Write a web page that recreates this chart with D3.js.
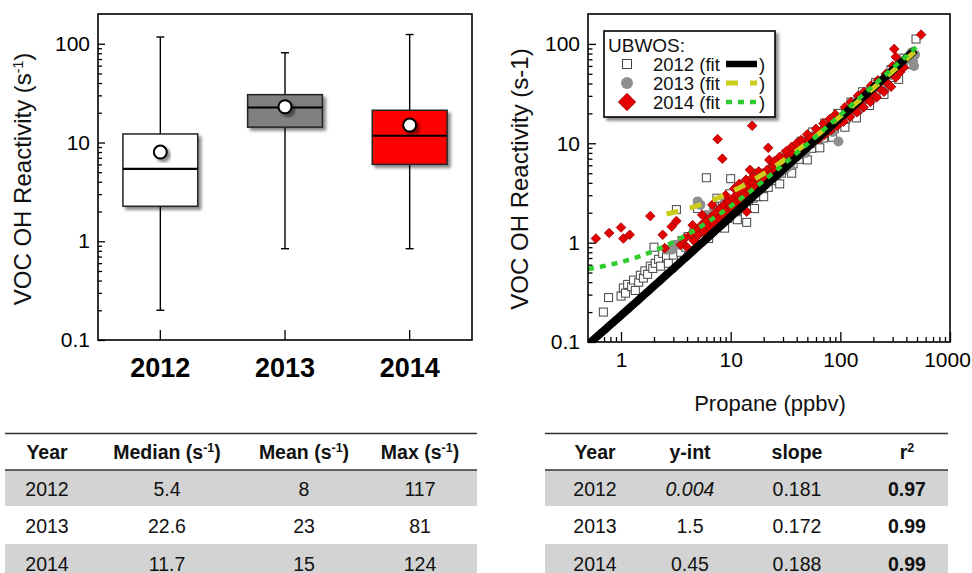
<!DOCTYPE html>
<html>
<head>
<meta charset="utf-8">
<script src="https://cdn.jsdelivr.net/npm/d3@7.9.0/dist/d3.min.js"></script>
<style>
  body { margin: 0; background: #fff; }
  svg { display: block; font-family: "Liberation Sans", Arial, sans-serif; }
</style>
</head>
<body>
<svg id="chart" width="972" height="573"></svg>
<script>
// box plot stats per year
const years = ['2012', '2013', '2014'];
const boxMin = [0.2, 0.84, 0.84];
const boxQ1 = [2.26, 14.3, 6.0];
const boxMedian = [5.4, 22.6, 11.7];
const boxQ3 = [12.2, 30.5, 21.2];
const boxMax = [117, 81, 124];
const boxMean = [8, 23, 15];
const boxColors = ['#ffffff', '#808080', '#ff0000'];

// linear fits (table on the right)
const fitInt = [0.004, 1.5, 0.45];
const fitSlope = [0.181, 0.172, 0.188];
const fitR2 = [0.97, 0.99, 0.99];
const fitXRange = [[0.5, 480], [2.6, 480], [0.5, 540]];

// scatter: [propane ppbv, VOC OH reactivity]
const pts2012 = [
  [0.69,0.20],[0.77,0.28],[1.0,0.29],[1.05,0.35],[1.1,0.31],[1.15,0.38],[1.25,0.36],[1.3,0.42],
  [1.35,0.33],[1.45,0.40],[1.5,0.47],[1.6,0.44],[1.65,0.52],[1.75,0.48],[1.85,0.58],[1.95,0.55],
  [2.05,0.62],[2.0,0.9],[2.2,0.68],[2.3,0.58],[2.4,0.78],[2.6,0.72],[2.7,0.62],[2.9,0.85],
  [3.0,0.75],[3.2,2.15],[3.3,0.95],[3.5,0.8],[3.6,1.05],[3.9,0.9],[4.1,1.15],[4.3,1.0],
  [4.6,1.25],[4.9,1.05],[5.2,1.35],[5.5,1.15],[5.8,1.5],[6.0,4.5],[6.1,1.25],[6.5,1.6],
  [6.8,1.35],[7.1,2.3],[7.3,1.75],[7.8,1.45],[8.2,1.9],[8.6,1.6],[9.0,2.1],[9.4,1.75],
  [10,4.4],[10,2.2],[10.5,1.9],[11,2.5],[11.5,2.1],[12,2.7],[12.5,2.3],[13.5,2.9],
  [14,1.6],[14.5,2.6],[15,3.2],[16,2.8],[17,3.6],[17.5,2.9],[18.5,3.9],[19.5,3.3],
  [21,4.3],[22,3.6],[23,4.8],[25,4.2],[26,4.8],[27,5.6],[29,5.0],[31,6.3],
  [33,5.5],[35,7.0],[37,6.2],[40,7.8],[42,6.9],[45,8.8],[48,7.8],[52,10],
  [55,8.9],[58,11],[62,10],[66,12.5],[70,11.3],[74,14],[78,12.6],[83,15.5],
  [88,14],[94,17.5],[100,15.8],[106,19.5],[112,17.5],[120,22],[128,19.5],[136,25],
  [145,22],[155,28],[165,25],[178,32],[190,29],[205,37],[220,33],[238,42],
  [255,38],[275,48],[300,46],[330,56],[360,60],[400,70],[440,76],[490,112],
  [5,2.2],[6.3,1.1],[7.5,2.8],[8.8,1.4],[9.8,3.1],[11.5,1.7],[13,3.8],[16.5,2.2],
  [18,5.0],[20,2.9],[24,6.2],[28,3.9],[32,7.8],[36,5.0],[44,10.5],[50,6.8],
  [56,13],[65,9.0],[72,16],[85,11.5],[95,20],[110,14.5],[125,26],[140,18],
  [160,33],[185,24],[210,41],[250,31],[290,55],[340,44],[380,72],[420,62]
];
const pts2013 = [
  [2.6,0.85],[2.9,0.85],[3.3,0.95],[5.0,2.6],[5.3,2.4],[6.0,1.9],[7,2.2],[9,2.6],
  [11,2.6],[13,3.3],[15,3.5],[18,3.9],[22,4.6],[26,5.3],[30,6.5],[33,5.7],
  [36,7.5],[40,7.3],[45,8.7],[50,9.5],[55,10.8],[60,11.2],[70,12.8],[80,14.5],
  [90,16.5],[96,10.4],[105,18.5],[115,21],[130,22],[145,27],[160,27.5],[180,33],
  [200,35],[230,40],[264,38],[300,53],[340,60],[380,65],[420,75],[445,82],
  [460,67],[480,78],
  [20,4.0],[24,5.6],[28,5.0],[35,6.2],[42,8.5],[48,8.0],[58,12],[65,11.5],
  [75,14],[85,13],[100,17],[120,19],[135,25],[150,24],[170,30],[190,29],
  [215,38],[240,37],[280,48],[320,50],[360,58],[400,70],[470,60]
];
const pts2014 = [
  [0.59,1.1],[0.78,1.25],[1.0,1.42],[1.05,1.1],[1.2,1.2],[1.85,1.85],[2.4,1.2],[2.5,0.88],
  [2.9,1.45],[3.2,1.65],[7.6,11],[8.4,7],[15.7,15],[14,2.05],[22,9],[15,5.4],
  [3.5,0.95],[3.8,1.1],[4.0,0.9],[4.3,1.2],[4.6,1.05],[4.9,1.35],[5.1,1.2],[5.4,1.5],
  [5.7,1.3],[6.0,1.65],[6.3,1.45],[6.6,1.8],[7.0,1.6],[7.3,2.0],[7.7,1.75],[8.0,2.2],
  [8.3,1.9],[8.7,2.4],[9.1,2.1],[9.5,2.6],[10,2.3],[10.5,2.8],[11,2.5],[11.6,3.1],
  [12.2,2.7],[12.8,3.4],[13.4,3.0],[14.2,3.7],[15,3.3],[15.8,4.0],[16.6,3.6],[17.5,4.4],
  [18.5,4.0],[19.5,4.8],[20.5,4.3],[21.5,5.4],[22.5,6.8],[23,4.8],[24.5,5.9],[26,5.3],
  [27.5,6.5],[29,5.9],[31,7.2],[33,6.5],[35,8.0],[37,7.2],[39,8.8],[42,8.0],
  [45,9.8],[48,8.9],[51,10.8],[55,9.9],[59,12],[63,11],[67,13.3],[72,12.2],
  [77,14.8],[82,13.5],[88,16.3],[94,15],[100,18],[107,16.5],[115,20],[123,18.5],
  [132,22.5],[142,20.5],[152,25],[163,23],[175,28],[188,26],[200,31],[215,29],
  [232,35],[250,33],[270,40],[290,37],[310,89],[320,46],[350,52],[380,58],[545,124],
  [16,4.6],[18,5.2],[20,5.0],[25,6.6],[28,7.3],[32,8.3],[36,9.2],[40,10],
  [44,10.8],[50,12.3],[54,11.5],[60,14],[70,15.8],[80,17.5],[90,19.5],[110,23],
  [125,26],[145,30],[165,33],[190,38],[220,43],[260,50],[300,60],[340,62],
  [320,74],[9,3.0],[10.8,3.5],[12,3.9],[13.8,4.3],[6.8,2.4],[5.5,1.9],[4.5,1.5]
];

const svg = d3.select('#chart');
const FONT = '"Liberation Sans", Arial, sans-serif';

// drop shadow used by boxes, mean dots and the legend
const defs = svg.append('defs');
const f = defs.append('filter').attr('id', 'shadow')
  .attr('x', '-20%').attr('y', '-20%').attr('width', '150%').attr('height', '150%');
f.append('feDropShadow').attr('dx', 3).attr('dy', 3).attr('stdDeviation', 1.6)
  .attr('flood-color', '#000').attr('flood-opacity', 0.45);

function logMinors(lo, hi) {
  const out = [];
  for (let p = -2; p <= 3; p++) {
    for (let k = 2; k <= 9; k++) {
      const v = k * Math.pow(10, p);
      if (v > lo * 1.001 && v < hi * 0.999) out.push(v);
    }
  }
  return out;
}

function styleAxis(g, size, bold) {
  g.select('.domain').remove();
  g.selectAll('line').attr('stroke', '#000').attr('stroke-width', 1.3);
  g.selectAll('text').attr('fill', '#000').style('font-family', FONT)
    .style('font-size', size + 'px').style('font-weight', bold ? 'bold' : 'normal');
}

// ---------------- left: box plot ----------------
const L = { x0: 98, x1: 472, y0: 14, y1: 340 };
const xBox = d3.scaleBand().domain(years).range([L.x0, L.x1]).padding(0);
const yBox = d3.scaleLog().domain([0.1, 200]).range([L.y1, L.y0]);

const left = svg.append('g');

left.append('g').attr('transform', `translate(${L.x0},0)`)
  .call(d3.axisLeft(yBox).tickValues(logMinors(0.1, 200)).tickSize(-4).tickFormat(''))
  .call(g => styleAxis(g, 21));
left.append('g').attr('transform', `translate(${L.x0},0)`)
  .call(d3.axisLeft(yBox).tickValues([0.1, 1, 10, 100]).tickSize(-7).tickPadding(8)
    .tickFormat(d => String(d)))
  .call(g => styleAxis(g, 21));
left.append('g').attr('transform', `translate(0,${L.y1})`)
  .call(d3.axisBottom(xBox).tickSize(-10).tickPadding(18))
  .call(g => styleAxis(g, 27, true));

const bw = xBox.bandwidth() * 0.6;
years.forEach((yr, i) => {
  const cx = xBox(yr) + xBox.bandwidth() / 2;
  const g = left.append('g');
  // whiskers
  g.append('line').attr('x1', cx).attr('x2', cx)
    .attr('y1', yBox(boxMax[i])).attr('y2', yBox(boxQ3[i]))
    .attr('stroke', '#000').attr('stroke-width', 1.4);
  g.append('line').attr('x1', cx).attr('x2', cx)
    .attr('y1', yBox(boxQ1[i])).attr('y2', yBox(boxMin[i]))
    .attr('stroke', '#000').attr('stroke-width', 1.4);
  [boxMax[i], boxMin[i]].forEach(v => {
    g.append('line').attr('x1', cx - 4).attr('x2', cx + 4)
      .attr('y1', yBox(v)).attr('y2', yBox(v))
      .attr('stroke', '#000').attr('stroke-width', 1.4);
  });
  // box
  g.append('rect')
    .attr('x', cx - bw / 2).attr('width', bw)
    .attr('y', yBox(boxQ3[i])).attr('height', yBox(boxQ1[i]) - yBox(boxQ3[i]))
    .attr('fill', boxColors[i]).attr('stroke', '#222').attr('stroke-width', 1.5)
    .attr('filter', 'url(#shadow)');
  g.append('line').attr('x1', cx - bw / 2).attr('x2', cx + bw / 2)
    .attr('y1', yBox(boxMedian[i])).attr('y2', yBox(boxMedian[i]))
    .attr('stroke', '#000').attr('stroke-width', 2.2);
  g.append('circle').attr('cx', cx).attr('cy', yBox(boxMean[i])).attr('r', 6.5)
    .attr('fill', '#fff').attr('stroke', '#000').attr('stroke-width', 2)
    .attr('filter', 'url(#shadow)');
});

left.append('rect').attr('x', L.x0).attr('y', L.y0)
  .attr('width', L.x1 - L.x0).attr('height', L.y1 - L.y0)
  .attr('fill', 'none').attr('stroke', '#000').attr('stroke-width', 1.6);

const lyl = left.append('text')
  .attr('transform', `translate(31,${(L.y0 + L.y1) / 2 + 2}) rotate(-90)`)
  .attr('text-anchor', 'middle').style('font-size', '24px').attr('fill', '#111');
lyl.append('tspan').text('VOC OH Reactivity (s');
lyl.append('tspan').attr('baseline-shift', 'super').style('font-size', '14px').text('-1');
lyl.append('tspan').text(')');

// ---------------- right: scatter ----------------
const R = { x0: 588, x1: 950, y0: 14, y1: 342 };
const xS = d3.scaleLog().domain([0.5, 1000]).range([R.x0, R.x1]);
const yS = d3.scaleLog().domain([0.1, 200]).range([R.y1, R.y0]);

const right = svg.append('g');
right.append('g').attr('transform', `translate(${R.x0},0)`)
  .call(d3.axisLeft(yS).tickValues(logMinors(0.1, 200)).tickSize(-4.5).tickFormat(''))
  .call(g => styleAxis(g, 21));
right.append('g').attr('transform', `translate(${R.x0},0)`)
  .call(d3.axisLeft(yS).tickValues([0.1, 1, 10, 100]).tickSize(-8).tickPadding(8)
    .tickFormat(d => String(d)))
  .call(g => styleAxis(g, 21));
right.append('g').attr('transform', `translate(0,${R.y1})`)
  .call(d3.axisBottom(xS).tickValues(logMinors(0.5, 1000)).tickSize(-5).tickFormat(''))
  .call(g => styleAxis(g, 21));
right.append('g').attr('transform', `translate(0,${R.y1})`)
  .call(d3.axisBottom(xS).tickValues([1, 10, 100, 1000]).tickSize(-10).tickPadding(10)
    .tickFormat(d => String(d)))
  .call(g => styleAxis(g, 21))
  .call(g => g.selectAll('text').filter(d => d === 1000).attr('dx', -3));

defs.append('clipPath').attr('id', 'clipR').append('rect')
  .attr('x', R.x0).attr('y', R.y0).attr('width', R.x1 - R.x0).attr('height', R.y1 - R.y0);
const plot = right.append('g').attr('clip-path', 'url(#clipR)');

plot.append('g').selectAll('rect').data(pts2012).join('rect')
  .attr('x', d => xS(d[0]) - 4).attr('y', d => yS(d[1]) - 4)
  .attr('width', 8).attr('height', 8)
  .attr('fill', '#fff').attr('stroke', '#444').attr('stroke-width', 1);
plot.append('g').selectAll('circle').data(pts2013).join('circle')
  .attr('cx', d => xS(d[0])).attr('cy', d => yS(d[1])).attr('r', 5)
  .attr('fill', '#8f8f8f');
const diamond = d3.symbol().type(d3.symbolSquare).size(46);
plot.append('g').selectAll('path').data(pts2014).join('path')
  .attr('d', diamond)
  .attr('transform', d => `translate(${xS(d[0])},${yS(d[1])}) rotate(45)`)
  .attr('fill', '#e40000').attr('stroke', '#a00000').attr('stroke-width', 0.8);

const fitStyles = [
  { stroke: '#000', width: 8, dash: null },
  { stroke: '#cccc1a', width: 5, dash: '12,12' },
  { stroke: '#2ecc2e', width: 4.5, dash: '6,6' }
];
const line = d3.line().x(d => xS(d[0])).y(d => yS(d[1]));
years.forEach((yr, i) => {
  const [lo, hi] = fitXRange[i];
  const xs = d3.range(0, 121).map(k => lo * Math.pow(hi / lo, k / 120));
  const pts = xs.map(x => [x, fitInt[i] + fitSlope[i] * x]);
  plot.append('path').datum(pts).attr('d', line)
    .attr('fill', 'none').attr('stroke', fitStyles[i].stroke)
    .attr('stroke-width', fitStyles[i].width)
    .attr('stroke-dasharray', fitStyles[i].dash);
});

right.append('rect').attr('x', R.x0).attr('y', R.y0)
  .attr('width', R.x1 - R.x0).attr('height', R.y1 - R.y0)
  .attr('fill', 'none').attr('stroke', '#000').attr('stroke-width', 1.6);

right.append('text')
  .attr('transform', `translate(528,${(R.y0 + R.y1) / 2 + 1}) rotate(-90)`)
  .attr('text-anchor', 'middle').style('font-size', '24px').attr('fill', '#111')
  .text('VOC OH Reactivity (s-1)');
right.append('text').attr('x', 770).attr('y', 411).attr('text-anchor', 'middle')
  .style('font-size', '22px').attr('fill', '#111').text('Propane (ppbv)');

// legend
const leg = right.append('g');
leg.append('rect').attr('x', 604).attr('y', 31).attr('width', 171).attr('height', 86)
  .attr('fill', '#fff').attr('stroke', '#000').attr('stroke-width', 1.6)
  .attr('filter', 'url(#shadow)');
leg.append('text').attr('x', 608).attr('y', 52).style('font-size', '19px')
  .attr('fill', '#111').text('UBWOS:');
const legY = [64, 83, 102];
years.forEach((yr, i) => {
  const cy = legY[i];
  if (i === 0) {
    leg.append('rect').attr('x', 622.5).attr('y', cy - 4.5).attr('width', 9).attr('height', 9)
      .attr('fill', '#fff').attr('stroke', '#444').attr('stroke-width', 1);
  } else if (i === 1) {
    leg.append('circle').attr('cx', 627).attr('cy', cy).attr('r', 6).attr('fill', '#8f8f8f');
  } else {
    leg.append('path').attr('d', d3.symbol().type(d3.symbolSquare).size(150))
      .attr('transform', `translate(627,${cy}) rotate(45)`)
      .attr('fill', '#e40000').attr('stroke', '#a00000').attr('stroke-width', 0.8);
  }
  leg.append('text').attr('x', 653).attr('y', cy + 6.5).style('font-size', '18.5px')
    .attr('fill', '#111').text(`${yr} (fit`);
  leg.append('line').attr('x1', 726).attr('x2', 757).attr('y1', cy).attr('y2', cy)
    .attr('stroke', fitStyles[i].stroke)
    .attr('stroke-width', i === 0 ? 6.5 : fitStyles[i].width)
    .attr('stroke-dasharray', fitStyles[i].dash);
  leg.append('text').attr('x', 759).attr('y', cy + 6.5).style('font-size', '18.5px')
    .attr('fill', '#111').text(')');
});

// ---------------- tables ----------------
const rowTop = [470, 506, 544];
const rowBot = [506, 544, 573];
const rowMid = [488.5, 526, 563.5];
const rowFill = ['#d3d3d3', '#ffffff', '#d3d3d3'];

function drawTable(x0, x1, colX, headers, cells) {
  const g = svg.append('g');
  rowTop.forEach((t, r) => {
    g.append('rect').attr('x', x0).attr('y', t).attr('width', x1 - x0)
      .attr('height', rowBot[r] - t).attr('fill', rowFill[r]);
  });
  g.append('line').attr('x1', x0).attr('x2', x1).attr('y1', 433.5).attr('y2', 433.5)
    .attr('stroke', '#333').attr('stroke-width', 1.6);
  g.append('line').attr('x1', x0).attr('x2', x1).attr('y1', 470).attr('y2', 470)
    .attr('stroke', '#333').attr('stroke-width', 1.6);
  headers.forEach((h, c) => {
    const t = g.append('text').attr('x', colX[c]).attr('y', 459)
      .attr('text-anchor', 'middle').style('font-size', '19.5px')
      .style('font-weight', 'bold').attr('fill', '#111');
    h.forEach(part => {
      const s = t.append('tspan').text(part.t);
      if (part.sup) s.attr('baseline-shift', 'super').style('font-size', '12.5px');
    });
  });
  cells.forEach((row, r) => {
    row.forEach((cell, c) => {
      g.append('text').attr('x', colX[c]).attr('y', rowMid[r] + 7)
        .attr('text-anchor', 'middle').style('font-size', '19.5px').attr('fill', '#111')
        .style('font-style', cell.italic ? 'italic' : 'normal')
        .style('font-weight', cell.bold ? 'bold' : 'normal')
        .text(cell.t);
    });
  });
}

drawTable(5, 477, [47, 167, 304, 420],
  [[{ t: 'Year' }],
   [{ t: 'Median (s' }, { t: '-1', sup: true }, { t: ')' }],
   [{ t: 'Mean (s' }, { t: '-1', sup: true }, { t: ')' }],
   [{ t: 'Max (s' }, { t: '-1', sup: true }, { t: ')' }]],
  years.map((yr, i) => [
    { t: yr }, { t: String(boxMedian[i]) }, { t: String(boxMean[i]) }, { t: String(boxMax[i]) }
  ]));

drawTable(545, 948, [595, 690, 797, 907],
  [[{ t: 'Year' }], [{ t: 'y-int' }], [{ t: 'slope' }],
   [{ t: 'r' }, { t: '2', sup: true }]],
  years.map((yr, i) => [
    { t: yr }, { t: String(fitInt[i]), italic: i === 0 }, { t: String(fitSlope[i]) },
    { t: String(fitR2[i]), bold: true }
  ]));
</script>
</body>
</html>
